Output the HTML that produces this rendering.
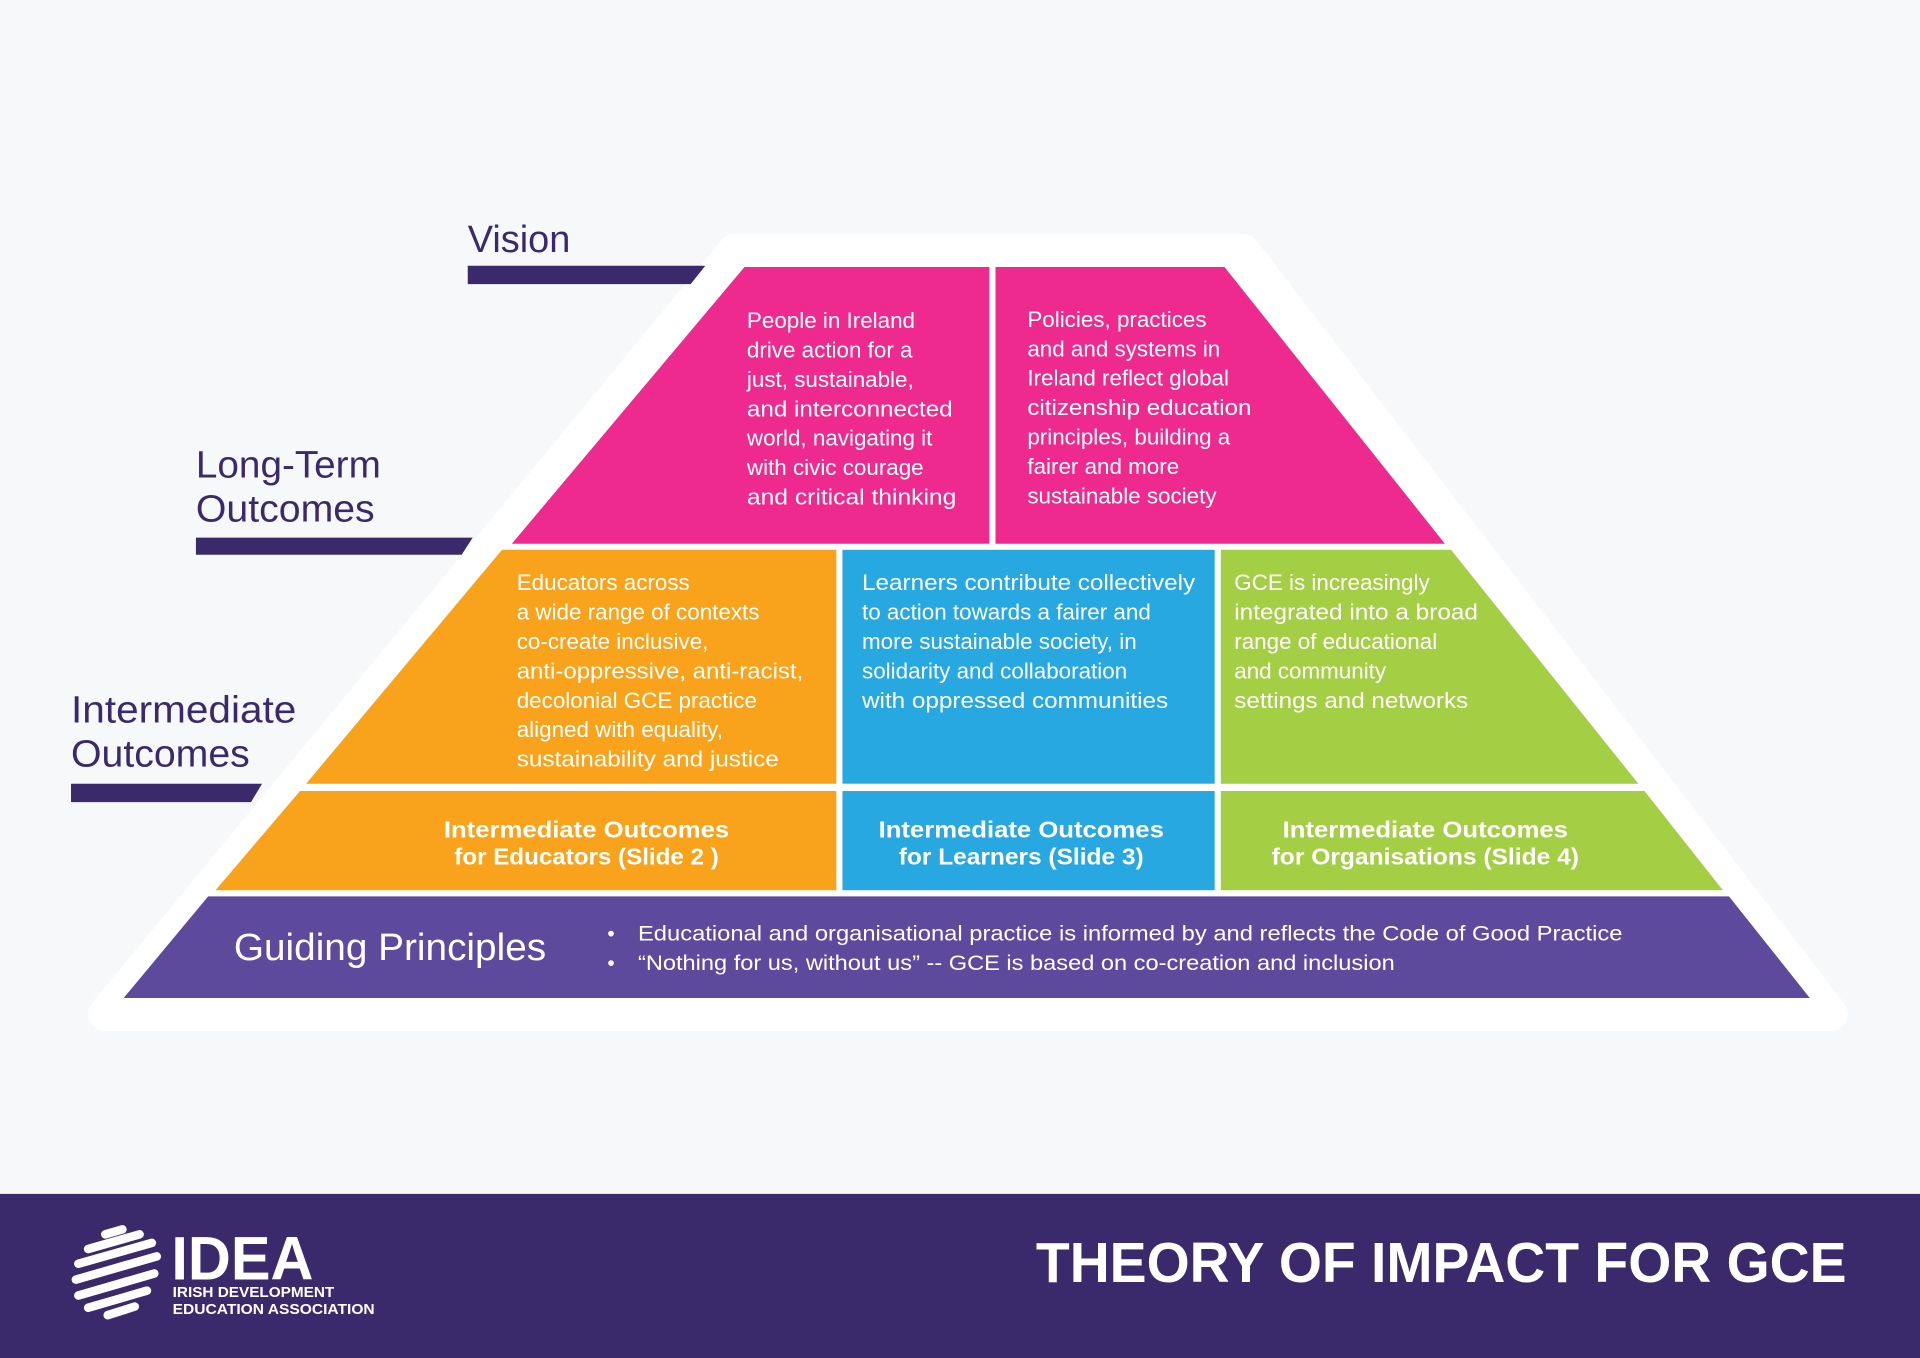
<!DOCTYPE html>
<html><head><meta charset="utf-8"><style>
html,body{margin:0;padding:0;background:#f7f8fa;}
svg{display:block;}
text{font-family:"Liberation Sans",sans-serif;}
</style></head><body>
<svg width="1920" height="1358" viewBox="0 0 1568 1109" preserveAspectRatio="none" xmlns="http://www.w3.org/2000/svg">
<rect width="1568" height="1109" fill="#f7f8fa"/>
<polygon points="600,205 1015,205 1495,828 86,828" fill="#fff" stroke="#fff" stroke-width="28" stroke-linejoin="round"/>
<polygon points="608,218 808,218 808,444 418,444" fill="#ee2a8e"/>
<polygon points="813,218 1000,218 1180,444 813,444" fill="#ee2a8e"/>
<polygon points="410,449 683,449 683,640 250,640" fill="#f9a21b"/>
<polygon points="245,646 683,646 683,727 176,727" fill="#f9a21b"/>
<rect x="688" y="449" width="304" height="191" fill="#27a8e0"/>
<rect x="688" y="646" width="304" height="81" fill="#27a8e0"/>
<polygon points="997,449 1185,449 1338,640 997,640" fill="#a4cf45"/>
<polygon points="997,646 1343,646 1407,727 997,727" fill="#a4cf45"/>
<polygon points="170,732 1412,732 1478,815 101,815" fill="#5d4a9c"/>

<g fill="#3a2a6b">
<text x="382" y="206" font-size="31">Vision</text>
<polygon points="382,217 576,217 564,232 382,232"/>
<text x="160" y="390" font-size="31" textLength="151" lengthAdjust="spacingAndGlyphs">Long-Term</text>
<text x="160" y="426" font-size="31" textLength="146" lengthAdjust="spacingAndGlyphs">Outcomes</text>
<polygon points="160,439 386,439 377,453 160,453"/>
<text x="58" y="590" font-size="31" textLength="184" lengthAdjust="spacingAndGlyphs">Intermediate</text>
<text x="58" y="626" font-size="31" textLength="146" lengthAdjust="spacingAndGlyphs">Outcomes</text>
<polygon points="58,640 214,640 205,655 58,655"/>
</g>

<g fill="#fff" font-size="18.3">
<text x="610" y="268">People in Ireland</text>
<text x="610" y="292">drive action for a</text>
<text x="610" y="316">just, sustainable,</text>
<text x="610" y="340" textLength="168" lengthAdjust="spacingAndGlyphs">and interconnected</text>
<text x="610" y="364">world, navigating it</text>
<text x="610" y="388">with civic courage</text>
<text x="610" y="412" textLength="171" lengthAdjust="spacingAndGlyphs">and critical thinking</text>

<text x="839" y="267">Policies, practices</text>
<text x="839" y="291">and and systems in</text>
<text x="839" y="315">Ireland reflect global</text>
<text x="839" y="339" textLength="183" lengthAdjust="spacingAndGlyphs">citizenship education</text>
<text x="839" y="363">principles, building a</text>
<text x="839" y="387">fairer and more</text>
<text x="839" y="411">sustainable society</text>

<text x="422" y="482">Educators across</text>
<text x="422" y="506">a wide range of contexts</text>
<text x="422" y="530">co-create inclusive,</text>
<text x="422" y="554" textLength="234" lengthAdjust="spacingAndGlyphs">anti-oppressive, anti-racist,</text>
<text x="422" y="578">decolonial GCE practice</text>
<text x="422" y="602">aligned with equality,</text>
<text x="422" y="626" textLength="214" lengthAdjust="spacingAndGlyphs">sustainability and justice</text>

<text x="704" y="482" textLength="272" lengthAdjust="spacingAndGlyphs">Learners contribute collectively</text>
<text x="704" y="506">to action towards a fairer and</text>
<text x="704" y="530">more sustainable society, in</text>
<text x="704" y="554">solidarity and collaboration</text>
<text x="704" y="578" textLength="250" lengthAdjust="spacingAndGlyphs">with oppressed communities</text>

<text x="1008" y="482">GCE is increasingly</text>
<text x="1008" y="506" textLength="199" lengthAdjust="spacingAndGlyphs">integrated into a broad</text>
<text x="1008" y="530">range of educational</text>
<text x="1008" y="554">and community</text>
<text x="1008" y="578" textLength="191" lengthAdjust="spacingAndGlyphs">settings and networks</text>
</g>

<g fill="#fff" font-size="18.5" font-weight="bold" text-anchor="middle">
<text x="479" y="684" textLength="233" lengthAdjust="spacingAndGlyphs">Intermediate Outcomes</text>
<text x="479" y="706" textLength="216" lengthAdjust="spacingAndGlyphs">for Educators (Slide 2 )</text>
<text x="834" y="684" textLength="233" lengthAdjust="spacingAndGlyphs">Intermediate Outcomes</text>
<text x="834" y="706" textLength="200" lengthAdjust="spacingAndGlyphs">for Learners (Slide 3)</text>
<text x="1164" y="684" textLength="233" lengthAdjust="spacingAndGlyphs">Intermediate Outcomes</text>
<text x="1164" y="706" textLength="251" lengthAdjust="spacingAndGlyphs">for Organisations (Slide 4)</text>
</g>

<g fill="#fff">
<text x="191" y="784" font-size="31" textLength="255" lengthAdjust="spacingAndGlyphs">Guiding Principles</text>
<text x="496" y="768" font-size="17">•</text>
<text x="496" y="792" font-size="17">•</text>
<text x="521" y="768" font-size="17.5" textLength="804" lengthAdjust="spacingAndGlyphs">Educational and organisational practice is informed by and reflects the Code of Good Practice</text>
<text x="521" y="792" font-size="17.5" textLength="618" lengthAdjust="spacingAndGlyphs">“Nothing for us, without us” -- GCE is based on co-creation and inclusion</text>
</g>

<rect x="0" y="975" width="1568" height="134" fill="#3a2a6b"/>
<g stroke="#fff" stroke-width="7" stroke-linecap="round">
<line x1="86" y1="1008" x2="100" y2="1004"/>
<line x1="72" y1="1020" x2="114" y2="1008"/>
<line x1="64" y1="1032" x2="124" y2="1015"/>
<line x1="62" y1="1045" x2="128" y2="1026"/>
<line x1="64" y1="1058" x2="126" y2="1040"/>
<line x1="72" y1="1068" x2="120" y2="1054"/>
<line x1="88" y1="1074" x2="110" y2="1067"/>
</g>
<text x="140" y="1045" font-size="50" font-weight="bold" fill="#fff" textLength="116" lengthAdjust="spacingAndGlyphs">IDEA</text>
<text x="141" y="1059" font-size="12" font-weight="bold" fill="#fff" textLength="132" lengthAdjust="spacingAndGlyphs">IRISH DEVELOPMENT</text>
<text x="141" y="1073" font-size="12" font-weight="bold" fill="#fff" textLength="165" lengthAdjust="spacingAndGlyphs">EDUCATION ASSOCIATION</text>
<text x="1508" y="1047" font-size="46" font-weight="bold" fill="#fff" text-anchor="end" textLength="662" lengthAdjust="spacingAndGlyphs">THEORY OF IMPACT FOR GCE</text>
</svg>
</body></html>
